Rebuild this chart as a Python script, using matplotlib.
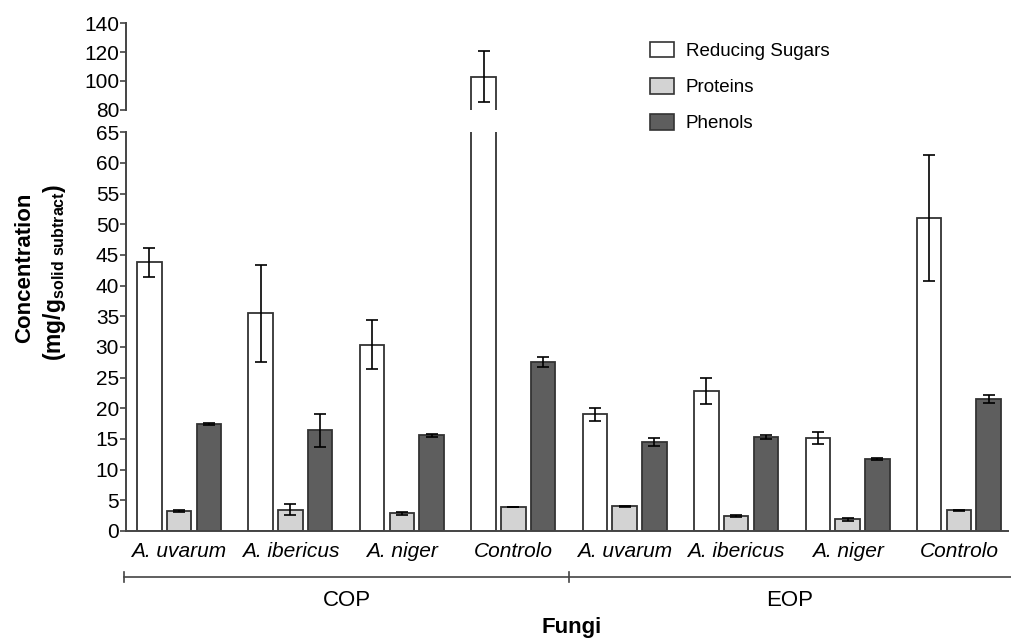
import matplotlib
matplotlib.use("Agg")
import matplotlib.pyplot as plt
import numpy as np
from matplotlib.patches import Patch
from matplotlib.lines import Line2D

plt.rcParams['font.family'] = ['Liberation Sans', 'DejaVu Sans']
plt.rcParams['mathtext.fontset'] = 'custom'
plt.rcParams['mathtext.bf'] = 'Liberation Sans:bold'
plt.rcParams['mathtext.rm'] = 'Liberation Sans'

NARROW = ['Liberation Sans Narrow', 'Liberation Sans', 'DejaVu Sans']

# Dados
fungi = ['A. uvarum', 'A. ibericus', 'A. niger', 'Controlo',
         'A. uvarum', 'A. ibericus', 'A. niger', 'Controlo']
groups = ['COP', 'EOP']
sugars = [43.8, 35.5, 30.4, 103.0, 19.0, 22.8, 15.2, 51.0]
sugars_err = [2.4, 7.9, 4.0, 17.5, 1.0, 2.1, 0.95, 10.3]
proteins = [3.25, 3.5, 2.9, 3.9, 4.0, 2.45, 1.9, 3.35]
proteins_err = [0.15, 0.85, 0.25, 0.0, 0.15, 0.15, 0.3, 0.1]
phenols = [17.5, 16.4, 15.6, 27.5, 14.5, 15.35, 11.8, 21.5]
phenols_err = [0.15, 2.7, 0.2, 0.8, 0.7, 0.3, 0.15, 0.6]

series = [
    ('Reducing Sugars', sugars, sugars_err, 'white'),
    ('Proteins', proteins, proteins_err, '#d3d3d3'),
    ('Phenols', phenols, phenols_err, '#5e5e5e'),
]

W, H = 1011, 639
fig = plt.figure(figsize=(W / 100, H / 100), dpi=100)

left = 126 / W
width = 882 / W
ax_top = fig.add_axes([left, 1 - 109.7 / H, width, (109.7 - 23.3) / H])
ax_bot = fig.add_axes([left, 1 - 531 / H, width, (531 - 132.3) / H])

x = np.arange(len(fungi))
pitch = 0.267
bw = 0.22
edge = '#333333'
spine_c = '#444444'

for ax in (ax_top, ax_bot):
    for i, (name, vals, errs, col) in enumerate(series):
        pos = x + (i - 1) * pitch
        ax.bar(pos, vals, width=bw, color=col, edgecolor=edge, linewidth=1.3,
               zorder=2)
        ax.errorbar(pos, vals, yerr=errs, fmt='none', ecolor='black',
                    elinewidth=1.2, capsize=4.3, capthick=1.2, zorder=3)
    ax.set_xlim(-0.476, 7.44)
    ax.spines['top'].set_visible(False)
    ax.spines['right'].set_visible(False)
    ax.spines['left'].set_color(spine_c)
    ax.spines['left'].set_linewidth(1.4)
    ax.spines['bottom'].set_color(spine_c)
    ax.spines['bottom'].set_linewidth(1.4)
    ax.tick_params(axis='y', direction='out', length=4, width=1.2,
                   color=spine_c, labelsize=15, pad=1)

ax_top.set_ylim(80, 140)
ax_top.set_yticks([80, 100, 120, 140])
ax_top.spines['bottom'].set_visible(False)
ax_top.set_xticks([])

ax_bot.set_ylim(0, 65)
ax_bot.set_yticks(np.arange(0, 66, 5))
ax_bot.set_xticks(x)
ax_bot.set_xticklabels(fungi, style='italic', family=NARROW, fontsize=15)
ax_bot.tick_params(axis='x', length=0, pad=8)

for ax in (ax_top, ax_bot):
    for lab in ax.get_yticklabels():
        lab.set_family(NARROW)
        lab.set_fontsize(15)

# Legenda
handles = [Patch(facecolor=col, edgecolor=edge, linewidth=1.2, label=name)
           for name, vals, errs, col in series]
fig.legend(handles=handles, loc='upper left',
           bbox_to_anchor=(633 / W, 1 - 25 / H), frameon=False,
           fontsize=13.5, handlelength=1.3, handleheight=0.9,
           labelspacing=0.95, handletextpad=0.6)

# Grupos COP / EOP
ly = 1 - 576.5 / H
fig.add_artist(Line2D([124 / W, 1011 / W], [ly, ly], color=spine_c, lw=1.2))
for px in (124, 569):
    fig.add_artist(Line2D([px / W, px / W], [ly - 5 / H, ly + 5 / H],
                          color=spine_c, lw=1.2))
fig.text(346.5 / W, 1 - 601 / H, groups[0], ha='center', va='center',
         fontsize=16, family=NARROW)
fig.text(790 / W, 1 - 601 / H, groups[1], ha='center', va='center',
         fontsize=16, family=NARROW)
fig.text(572 / W, 1 - 628 / H, 'Fungi', ha='center', va='center',
         fontsize=16, fontweight='bold')

# Eixo y
fig.text(25 / W, 1 - 268 / H, 'Concentration', rotation=90, ha='center',
         va='center', fontsize=16, fontweight='bold')
fig.text(55 / W, 1 - 272 / H, r'(mg/g$_{\mathbf{solid\ subtract}}$)',
         rotation=90, ha='center', va='center', fontsize=16.5,
         fontweight='bold')

fig.savefig('out.png', dpi=100)
